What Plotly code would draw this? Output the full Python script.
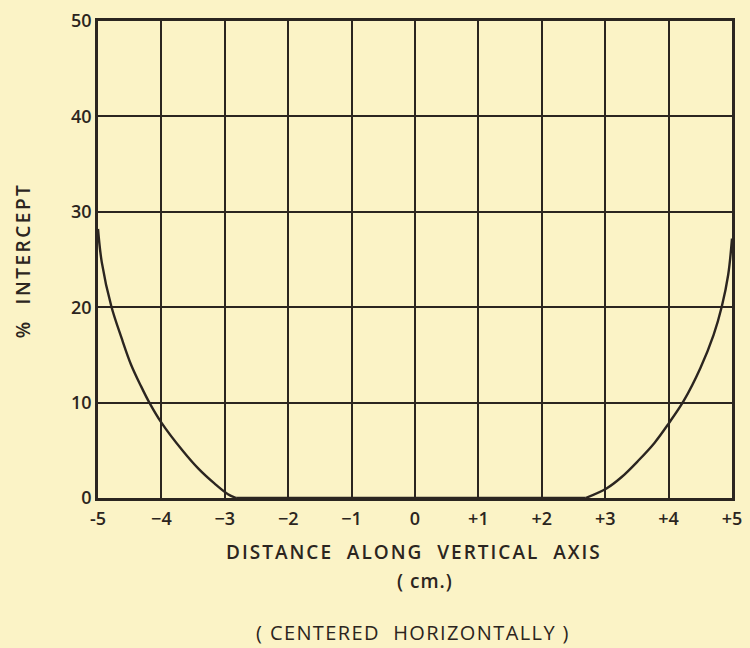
import plotly.graph_objects as go

# Curve data (distance in cm, % intercept)
left_x = [-5.0, -4.94, -4.79, -4.63, -4.48, -4.32, -4.19, -4.0, -3.67, -3.42, -3.16, -2.95, -2.82]
left_y = [28.2, 24.7, 20.1, 16.8, 14.0, 11.7, 10.0, 7.9, 5.0, 3.1, 1.5, 0.4, 0.0]
flat_x = [-2.82, 2.69]
flat_y = [0.0, 0.0]
right_x = [2.69, 3.02, 3.26, 3.52, 3.78, 4.0, 4.24, 4.5, 4.71, 4.84, 4.94, 5.0]
right_y = [0.0, 1.0, 2.2, 3.9, 5.8, 7.8, 10.2, 13.6, 17.1, 20.1, 23.4, 27.2]

x_tickvals = [-5, -4, -3, -2, -1, 0, 1, 2, 3, 4, 5]
x_ticktext = ["-5", "\u22124", "\u22123", "\u22122", "\u22121", "0", "+1", "+2", "+3", "+4", "+5"]
y_tickvals = [0, 10, 20, 30, 40, 50]
y_ticktext = ["0", "10", "20", "30", "40", "50"]

BG = "#fbf3c6"
INK = "#2b2520"
FONT = "Open Sans"


def spaced(text, px):
    return f'<span style="letter-spacing:{px}px">{text}</span>'


fig = go.Figure()
for xs, ys in [(left_x, left_y), (flat_x, flat_y), (right_x, right_y)]:
    fig.add_trace(go.Scatter(x=xs, y=ys, mode="lines",
                             line=dict(color=INK, width=2.4, shape="spline", smoothing=1.0),
                             showlegend=False, hoverinfo="skip"))

tickfont = dict(size=18, family=FONT, color=INK, weight=600)
fig.update_layout(
    width=750, height=648,
    margin=dict(l=98, r=8, t=17, b=150),
    paper_bgcolor=BG, plot_bgcolor=BG,
    font=dict(family=FONT, color=INK, size=15),
    xaxis=dict(range=[-5, 5], tickvals=x_tickvals, ticktext=x_ticktext,
               showgrid=True, gridcolor=INK, gridwidth=2.2, zeroline=False,
               showline=True, linecolor=INK, linewidth=2.8, mirror=True,
               ticks="", tickfont=tickfont, ticklabeloverflow="allow",
               ticklabelstandoff=2),
    yaxis=dict(range=[0, 50], tickvals=y_tickvals, ticktext=y_ticktext,
               showgrid=True, gridcolor=INK, gridwidth=2.2, zeroline=False,
               showline=True, linecolor=INK, linewidth=2.8, mirror=True,
               ticks="", tickfont=tickfont),
    annotations=[
        dict(text=spaced("DISTANCE  ALONG  VERTICAL  AXIS", 2), xref="paper", yref="paper",
             x=(419 - 98) / 644, y=-0.113, xanchor="center", yanchor="middle", showarrow=False,
             font=dict(size=19, family=FONT, color=INK, weight=600)),
        dict(text=spaced("( cm.)", 1), xref="paper", yref="paper",
             x=(430 - 98) / 644, y=-0.173, xanchor="center", yanchor="middle", showarrow=False,
             font=dict(size=19, family=FONT, color=INK, weight=600)),
        dict(text=spaced("( CENTERED  HORIZONTALLY )", 1.4), xref="paper", yref="paper",
             x=(418 - 98) / 644, y=-0.281, xanchor="center", yanchor="middle", showarrow=False,
             font=dict(size=20, family=FONT, color=INK, weight=500)),
        dict(text=spaced("%  INTERCEPT", 2.5), xref="paper", yref="paper",
             x=-0.118, y=(498 - 258) / 481, xanchor="center", yanchor="middle", showarrow=False,
             textangle=-90, font=dict(size=19, family=FONT, color=INK, weight=600)),
    ],
)

fig.write_html("out.html", config={"displayModeBar": False},
               post_script="document.body.style.margin='0';")
